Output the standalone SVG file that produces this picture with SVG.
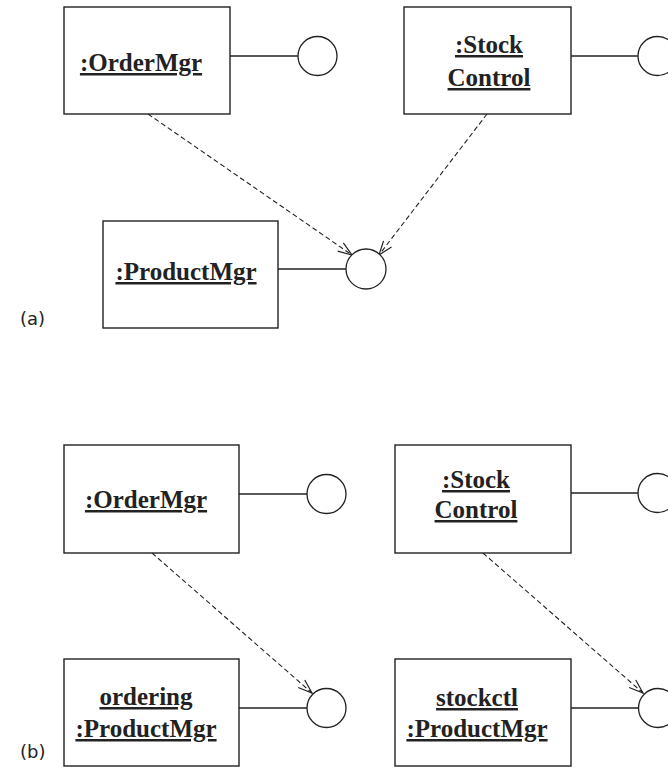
<svg xmlns="http://www.w3.org/2000/svg" width="668" height="767" viewBox="0 0 668 767">
<defs>
<marker id="open" viewBox="0 0 16 12" refX="15" refY="6" markerWidth="16" markerHeight="12" markerUnits="userSpaceOnUse" orient="auto">
<path d="M1,1 L15,6 L1,11" fill="none" stroke="#222" stroke-width="1.2"/>
</marker>
<style>
.box{fill:#fff;stroke:#222;stroke-width:1.4}
.iface{fill:#fff;stroke:#222;stroke-width:1.3}
.lol{stroke:#222;stroke-width:1.3;fill:none}
.dep{stroke:#222;stroke-width:1.1;fill:none;stroke-dasharray:5 3;marker-end:url(#open)}
.lbl{font-family:"Liberation Serif",serif;font-weight:bold;font-size:25px;fill:#222;text-anchor:middle;text-decoration:underline}
.tag{font-family:"DejaVu Sans",sans-serif;font-size:18px;fill:#222}
</style>
</defs>
<g id="connectors">
<line class="dep" x1="148" y1="114" x2="352" y2="255"/>
<line class="dep" x1="487" y1="114" x2="379" y2="255"/>
<line class="dep" x1="152" y1="553" x2="312" y2="693"/>
<line class="dep" x1="483" y1="553" x2="643" y2="693"/>
</g>
<g id="a-ordermgr">
<rect class="box" x="64" y="7" width="166" height="107"/>
<text class="lbl" x="141" y="71">:OrderMgr</text>
<line class="lol" x1="230" y1="56" x2="298" y2="56"/>
<circle class="iface" cx="317.5" cy="56" r="19.5"/>
</g>
<g id="a-stockcontrol">
<rect class="box" x="404" y="7" width="167" height="107"/>
<text class="lbl" x="489" y="53">:Stock</text>
<text class="lbl" x="489" y="86">Control</text>
<line class="lol" x1="571" y1="56" x2="638" y2="56"/>
<circle class="iface" cx="657.5" cy="56" r="19.5"/>
</g>
<g id="a-productmgr">
<rect class="box" x="103" y="221" width="175" height="107"/>
<text class="lbl" x="186" y="280">:ProductMgr</text>
<line class="lol" x1="278" y1="269" x2="346" y2="269"/>
<circle class="iface" cx="366" cy="269" r="20"/>
</g>
<text class="tag" x="20" y="325">(a)</text>
<g id="b-ordermgr">
<rect class="box" x="64" y="445" width="175" height="108"/>
<text class="lbl" x="146" y="508">:OrderMgr</text>
<line class="lol" x1="239" y1="494" x2="307" y2="494"/>
<circle class="iface" cx="326.5" cy="494" r="19.5"/>
</g>
<g id="b-stockcontrol">
<rect class="box" x="395" y="445" width="176" height="108"/>
<text class="lbl" x="476" y="488">:Stock</text>
<text class="lbl" x="476" y="518">Control</text>
<line class="lol" x1="571" y1="493" x2="638" y2="493"/>
<circle class="iface" cx="657.5" cy="493" r="19.5"/>
</g>
<g id="b-ordering">
<rect class="box" x="64" y="659" width="175" height="107"/>
<text class="lbl" x="146" y="705">ordering</text>
<text class="lbl" x="146" y="737">:ProductMgr</text>
<line class="lol" x1="239" y1="708" x2="307" y2="708"/>
<circle class="iface" cx="326.5" cy="708" r="19.5"/>
</g>
<g id="b-stockctl">
<rect class="box" x="395" y="659" width="176" height="107"/>
<text class="lbl" x="477" y="706">stockctl</text>
<text class="lbl" x="477" y="737">:ProductMgr</text>
<line class="lol" x1="571" y1="708" x2="639" y2="708"/>
<circle class="iface" cx="658" cy="708" r="19.5"/>
</g>
<text class="tag" x="20" y="758">(b)</text>
</svg>
